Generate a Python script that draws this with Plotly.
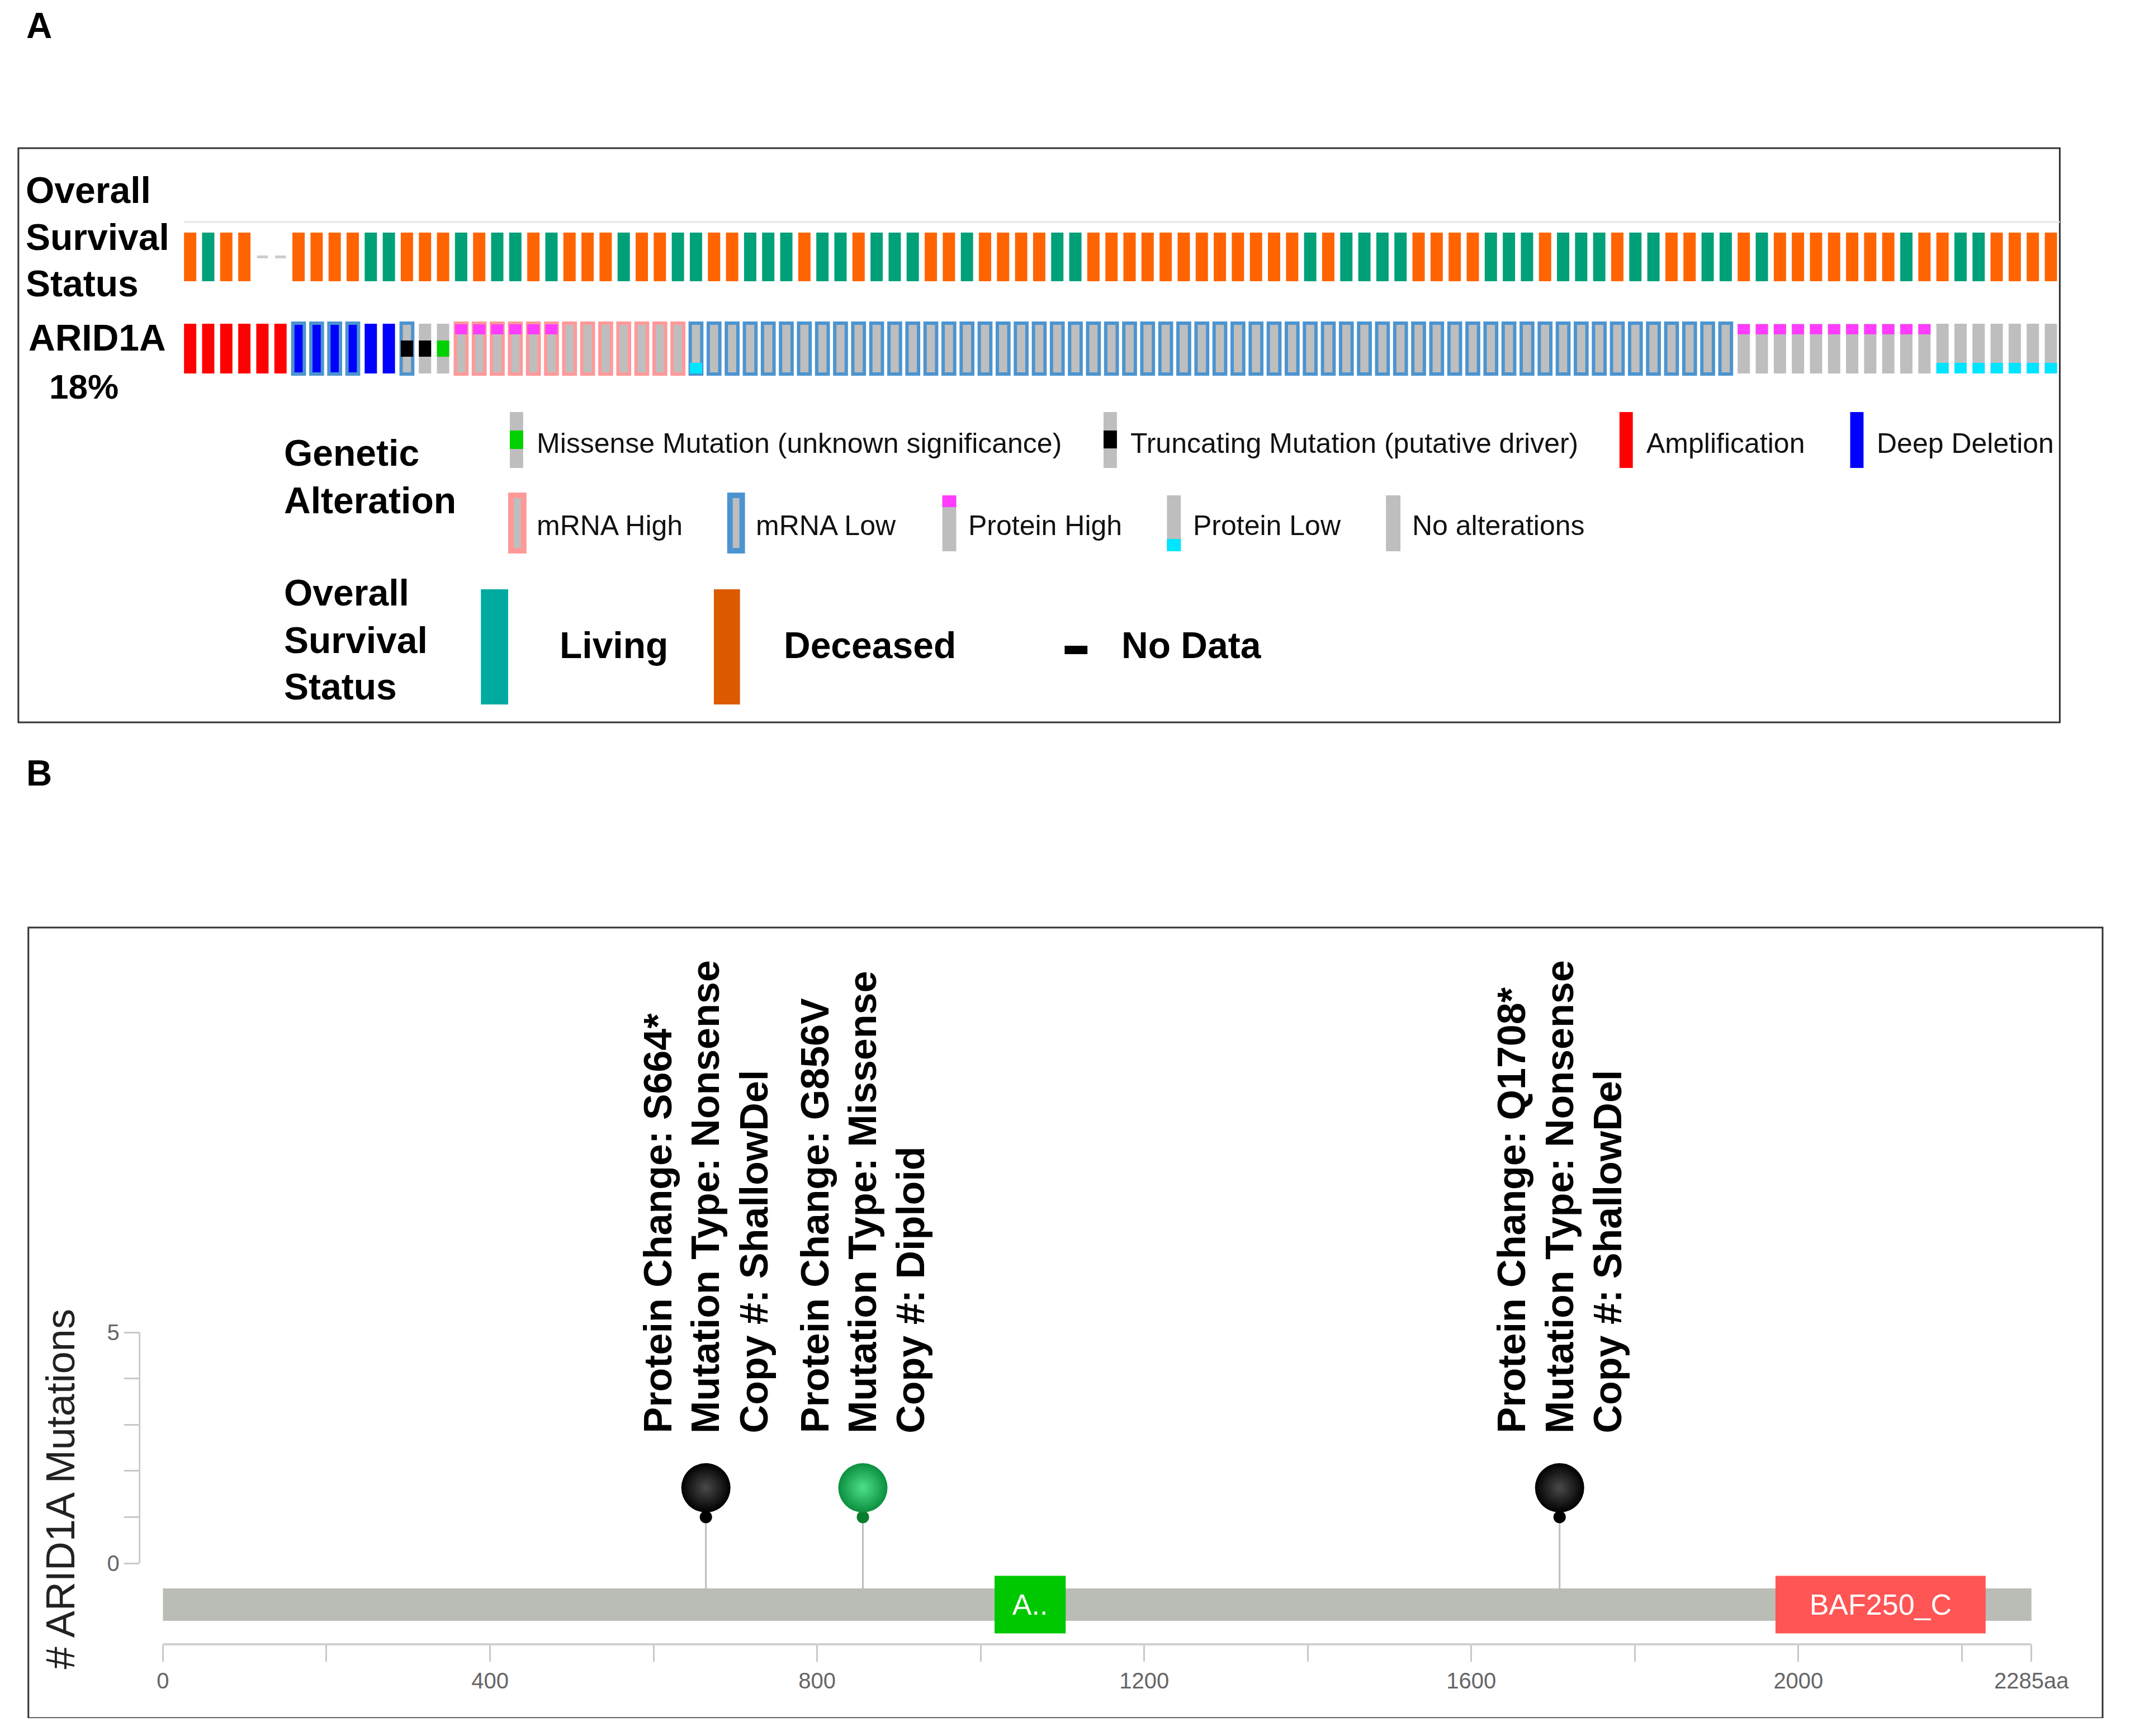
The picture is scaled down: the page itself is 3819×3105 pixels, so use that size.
import plotly.graph_objects as go

W, H = 3819, 3105
OFF = 8                      # page body margin (px)
FW, FH = W - 40, H - 40      # leave room so the page never scrolls
FONT = "Liberation Sans"

# ---------------- Panel A data (one character per sample) ----------------
# Overall survival: D = deceased, L = living, N = no data
survival_status = list(
    "DLDDNNDDDDLLDDDLDLLDL"
    "DDDLDDLLDDLLLDLLDLLLD"
    "DLDDDDLL" "DDDDDDDDDDDD" "L"
    "DLLLLDDDDLLLDLLLDLLDD"
    "LLDL" "DDDDDDD" "LDDLL" "DDDD"
)
# ARID1A copy number: A = amplification, H = deep deletion
cna = list("AAAAAA" "HHHHHH" + "-" * 92)
# mRNA: H = high, L = low
mrna = list("------" "LLLL" "--" "L" "--" + "H" * 13 + "L" * 58 + "-" * 18)
# mutation: T = truncating (putative driver), M = missense (unknown significance)
mutation = list("-" * 12 + "TTM" + "-" * 89)
# protein: H = high, L = low
protein = list("-" * 15 + "H" * 6 + "-" * 7 + "L" + "-" * 57 + "H" * 11 + "L" * 7)

alteration_pct = "18%"
gene = "ARID1A"

legend_row1 = ["Missense Mutation (unknown significance)", "Truncating Mutation (putative driver)",
               "Amplification", "Deep Deletion"]
legend_row2 = ["mRNA High", "mRNA Low", "Protein High", "Protein Low", "No alterations"]
survival_legend = ["Living", "Deceased", "No Data"]

# ---------------- Panel B data ----------------
protein_length = 2285
mut_pos = [664, 856, 1708]
mut_count = [1, 1, 1]
mut_change = ["S664*", "G856V", "Q1708*"]
mut_type = ["Nonsense", "Missense", "Nonsense"]
mut_copy = ["ShallowDel", "Diploid", "ShallowDel"]
domain_name = ["A..", "BAF250_C"]
domain_start = [1017, 1972]
domain_end = [1104, 2229]
x_tickvals = [0, 200, 400, 600, 800, 1000, 1200, 1400, 1600, 1800, 2000, 2200, 2285]
x_ticktext = ["0", "", "400", "", "800", "", "1200", "", "1600", "", "2000", "", "2285aa"]
y_tickvals = [0, 1, 2, 3, 4, 5]
y_ticktext = ["0", "", "", "", "", "5"]

# ---------------- styles ----------------
C_LIV, C_DEC, C_NODATA = "#00A078", "#FF6400", "#CCCCCC"
C_AMP, C_DEL, C_GRAY = "#FF0000", "#0000FF", "#BEBEBE"
C_MHIGH, C_MLOW = "#FF9999", "#4C94D0"
C_PHIGH, C_PLOW = "#FF3CFF", "#00E5FF"
C_MIS, C_TRUNC = "#00D000", "#000000"
C_LEG_LIV, C_LEG_DEC = "#00AAA0", "#DD5A00"


def pxx(p):
    return (p - OFF) / FW


def pxy(p):
    return 1 - (p - OFF) / FH


# panel A geometry (axis units: 1 sample per x unit, 164 px per row unit)
ROW = 164.0
SURV_Y, GENE_Y = 1.0, 0.0
SURV_H = 87 / ROW
BAR_H = 89 / ROW
OUT_H = 91 / ROW
DASH_H = 5 / ROW
BAR_W, OUT_W = 0.68, 0.64

# panel B geometry
K = (3654 - 293) / protein_length       # px per aa
UNIT = 82.6                             # px per mutation count
Y0PX = 2796                             # px of count 0
BACK_Y = (Y0PX - 2870) / UNIT
BACK_H = 58 / UNIT
DOM_H = 103 / UNIT
HEAD_DY = 0.634
TEXT_DY = 1.80

fig = go.Figure()
n = len(survival_status)
idx = list(range(n))

# ---- survival track ----
sx = [i for i in idx if survival_status[i] != "N"]
fig.add_trace(go.Bar(
    x=sx, y=[SURV_H] * len(sx), base=[SURV_Y - SURV_H / 2] * len(sx), width=BAR_W,
    marker=dict(color=[C_LIV if survival_status[i] == "L" else C_DEC for i in sx], line_width=0),
    xaxis="x", yaxis="y", hoverinfo="skip"))
nx = [i for i in idx if survival_status[i] == "N"]
fig.add_trace(go.Bar(
    x=nx, y=[DASH_H] * len(nx), base=[SURV_Y - DASH_H / 2] * len(nx), width=0.6,
    marker=dict(color=C_NODATA, line_width=0), xaxis="x", yaxis="y", hoverinfo="skip"))

# ---- ARID1A track base (CNA fill + mRNA outline) ----
fills, lines, lw, ws, hs = [], [], [], [], []
for i in idx:
    fills.append(C_AMP if cna[i] == "A" else C_DEL if cna[i] == "H" else C_GRAY)
    if mrna[i] in ("H", "L"):
        lines.append(C_MHIGH if mrna[i] == "H" else C_MLOW)
        lw.append(6)
        ws.append(OUT_W)
        hs.append(OUT_H)
    else:
        lines.append(fills[-1])
        lw.append(0)
        ws.append(BAR_W)
        hs.append(BAR_H)
fig.add_trace(go.Bar(
    x=idx, y=hs, base=[GENE_Y - h / 2 for h in hs], width=ws,
    marker=dict(color=fills, line=dict(color=lines, width=lw)),
    xaxis="x", yaxis="y", hoverinfo="skip"))

# protein high (top) / low (bottom)
ph = [i for i in idx if protein[i] == "H"]
fig.add_trace(go.Bar(
    x=ph, y=[18 / ROW] * len(ph), base=[GENE_Y + 25.5 / ROW] * len(ph), width=BAR_W,
    marker=dict(color=C_PHIGH, line_width=0), xaxis="x", yaxis="y", hoverinfo="skip"))
pl = [i for i in idx if protein[i] == "L"]
fig.add_trace(go.Bar(
    x=pl, y=[19 / ROW] * len(pl), base=[GENE_Y - 44.5 / ROW] * len(pl), width=BAR_W,
    marker=dict(color=C_PLOW, line_width=0), xaxis="x", yaxis="y", hoverinfo="skip"))
# mutations (middle third)
mx = [i for i in idx if mutation[i] != "-"]
fig.add_trace(go.Bar(
    x=mx, y=[29 / ROW] * len(mx), base=[GENE_Y - 14.5 / ROW] * len(mx), width=BAR_W,
    marker=dict(color=[C_TRUNC if mutation[i] == "T" else C_MIS for i in mx], line_width=0),
    xaxis="x", yaxis="y", hoverinfo="skip"))

# ---- Panel B: lollipop ----
fig.add_trace(go.Bar(
    orientation="h", y=[BACK_Y], x=[protein_length], base=[0], width=BACK_H,
    marker=dict(color="#BABDB6", line_width=0), xaxis="x2", yaxis="y2", hoverinfo="skip"))
fig.add_trace(go.Bar(
    orientation="h", y=[BACK_Y] * len(domain_name),
    x=[e - s for s, e in zip(domain_start, domain_end)], base=domain_start, width=DOM_H,
    marker=dict(color=["#00C800", "#FF5555"], line_width=0),
    text=domain_name, textposition="inside", insidetextanchor="middle", textangle=0,
    insidetextfont=dict(family=FONT, size=52, color="white"),
    xaxis="x2", yaxis="y2", hoverinfo="skip"))

stem_x, stem_y = [], []
for p, c in zip(mut_pos, mut_count):
    stem_x += [p, p, None]
    stem_y += [BACK_Y + BACK_H / 2, c, None]
fig.add_trace(go.Scatter(x=stem_x, y=stem_y, mode="lines", line=dict(color="#BDBDBD", width=3),
                         xaxis="x2", yaxis="y2", hoverinfo="skip"))
edge = ["#000000" if t == "Nonsense" else "#0B8F3F" for t in mut_type]
center = ["#4a4a4a" if t == "Nonsense" else "#4FE08A" for t in mut_type]
dot = ["#000000" if t == "Nonsense" else "#0A7D2C" for t in mut_type]
fig.add_trace(go.Scatter(x=mut_pos, y=mut_count, mode="markers",
                         marker=dict(size=22, color=dot, line_width=0),
                         xaxis="x2", yaxis="y2", hoverinfo="skip"))
fig.add_trace(go.Scatter(x=mut_pos, y=[c + HEAD_DY for c in mut_count], mode="markers",
                         marker=dict(size=88, color=edge, line_width=0,
                                     gradient=dict(type="radial", color=center)),
                         xaxis="x2", yaxis="y2", hoverinfo="skip"))

annotations = []


def label(text, x, baseline, size, bold=False, anchor="left", color="black", family=FONT):
    annotations.append(dict(
        text=text, xref="paper", yref="paper", x=pxx(x), y=pxy(baseline - 0.35 * size),
        xanchor=anchor, yanchor="middle", showarrow=False, borderpad=0,
        font=dict(family=family, size=size, color=color, weight="bold" if bold else "normal")))


label("A", 46, 68, 64, bold=True)
label("B", 46, 1405, 64, bold=True)
for t, b in zip(["Overall", "Survival", "Status"], [363, 447, 530]):
    label(t, 45, b, 66, bold=True)
label(gene, 50, 627, 66, bold=True)
label(alteration_pct, 151, 713, 62, bold=True, anchor="center")
label("Genetic", 510, 833, 66, bold=True)
label("Alteration", 510, 918, 66, bold=True)
for t, b in zip(["Overall", "Survival", "Status"], [1083, 1168, 1251]):
    label(t, 510, b, 66, bold=True)

for t, x in zip(legend_row1, [964, 2032, 2960, 3375]):
    label(t, x, 810, 50, color="#111")
for t, x in zip(legend_row2, [964, 1359, 1741, 2145, 2539]):
    label(t, x, 958, 50, color="#111")
for t, x in zip(survival_legend, [1006, 1409, 2016]):
    label(t, x, 1177, 66, bold=True)

# lollipop labels (rotated)
for p, c, ch, ty, cp in zip(mut_pos, mut_count, mut_change, mut_type, mut_copy):
    for line, dx in zip(["Protein Change: " + ch, "Mutation Type: " + ty, "Copy #: " + cp], [-86, 0, 86]):
        annotations.append(dict(
            text=line, xref="x2", yref="y2", x=p, y=c + TEXT_DY, xshift=dx,
            xanchor="center", yanchor="bottom", textangle=-90, showarrow=False, borderpad=0,
            font=dict(family=FONT, size=70, color="black", weight="bold")))

annotations.append(dict(
    text="# ARID1A Mutations", xref="paper", yref="paper", x=pxx(109), y=pxy(2663),
    xanchor="center", yanchor="middle", textangle=-90, showarrow=False,
    font=dict(family=FONT, size=72, color="#222")))

shapes = []


def rect(x0, y0, x1, y1, color, line=None, lw=0):
    shapes.append(dict(type="rect", xref="paper", yref="paper",
                       x0=pxx(x0), x1=pxx(x1), y0=pxy(y1), y1=pxy(y0),
                       fillcolor=color if color else "rgba(0,0,0,0)",
                       line=dict(color=line or "rgba(0,0,0,0)", width=lw), layer="above"))


# panel boxes
rect(33, 265, 3705, 1292, None, line="#333333", lw=3)
rect(51, 1659, 3782, 3073, None, line="#333333", lw=3)
# separator above survival track
shapes.append(dict(type="line", xref="x", yref="y", x0=-0.35, x1=103.5,
                   y0=SURV_Y + (459.5 - 397) / ROW, y1=SURV_Y + (459.5 - 397) / ROW,
                   line=dict(color="#E6E6E6", width=3)))

# legend glyphs row 1
rect(917, 737, 941, 837, C_GRAY); rect(917, 770, 941, 803, C_MIS)
rect(1985, 737, 2009, 837, C_GRAY); rect(1985, 770, 2009, 802, C_TRUNC)
rect(2913, 737, 2937, 837, C_AMP)
rect(3328, 737, 3352, 837, C_DEL)
# row 2
rect(914, 881, 947, 990, C_MHIGH); rect(924, 891, 937, 980, C_GRAY)
rect(1308, 881, 1340, 990, C_MLOW); rect(1318, 891, 1330, 980, C_GRAY)
rect(1695, 886, 1720, 986, C_GRAY); rect(1695, 886, 1720, 907, C_PHIGH)
rect(2099, 886, 2124, 986, C_GRAY); rect(2099, 964, 2124, 986, C_PLOW)
rect(2493, 886, 2519, 986, C_GRAY)
# survival legend
rect(865, 1054, 914, 1260, C_LEG_LIV)
rect(1284, 1054, 1331, 1260, C_LEG_DEC)
rect(1915, 1155, 1956, 1170, "#000000")

# panel B axis lines
shapes.append(dict(type="line", xref="x2 domain", yref="y2", x0=0, x1=0, y0=0, y1=5,
                   line=dict(color="#CCCCCC", width=3)))
shapes.append(dict(type="line", xref="x2", yref="y2 domain", x0=0, x1=protein_length, y0=0, y1=0,
                   line=dict(color="#D0D0D0", width=4)))

fig.update_layout(
    width=FW, height=FH, margin=dict(l=0, r=0, t=0, b=0),
    paper_bgcolor="white", plot_bgcolor="rgba(0,0,0,0)",
    showlegend=False, barmode="overlay",
    xaxis=dict(domain=[pxx(325.75), pxx(3705.25)], range=[-0.5, n - 0.5], visible=False,
               anchor="y", fixedrange=True),
    yaxis=dict(domain=[pxy(623.5 + 0.6 * ROW), pxy(459.5 - 0.6 * ROW)], range=[-0.6, 1.6],
               visible=False, anchor="x", fixedrange=True),
    xaxis2=dict(domain=[pxx(251), pxx(3700)], range=[(251 - 293) / K, (3700 - 293) / K],
                anchor="y2", showgrid=False, zeroline=False, showline=False,
                tickvals=x_tickvals, ticktext=x_ticktext, ticks="outside", ticklen=30,
                tickwidth=3, tickcolor="#C8C8C8",
                tickfont=dict(family=FONT, size=40, color="#666")),
    yaxis2=dict(domain=[pxy(2941), pxy(1700)], range=[(Y0PX - 2941) / UNIT, (Y0PX - 1700) / UNIT],
                anchor="x2", showgrid=False, zeroline=False, showline=False,
                tickvals=y_tickvals, ticktext=y_ticktext, ticks="outside", ticklen=27,
                tickwidth=3, tickcolor="#C8C8C8",
                tickfont=dict(family=FONT, size=40, color="#666")),
    annotations=annotations, shapes=shapes,
)

fig.write_html("out.html")
